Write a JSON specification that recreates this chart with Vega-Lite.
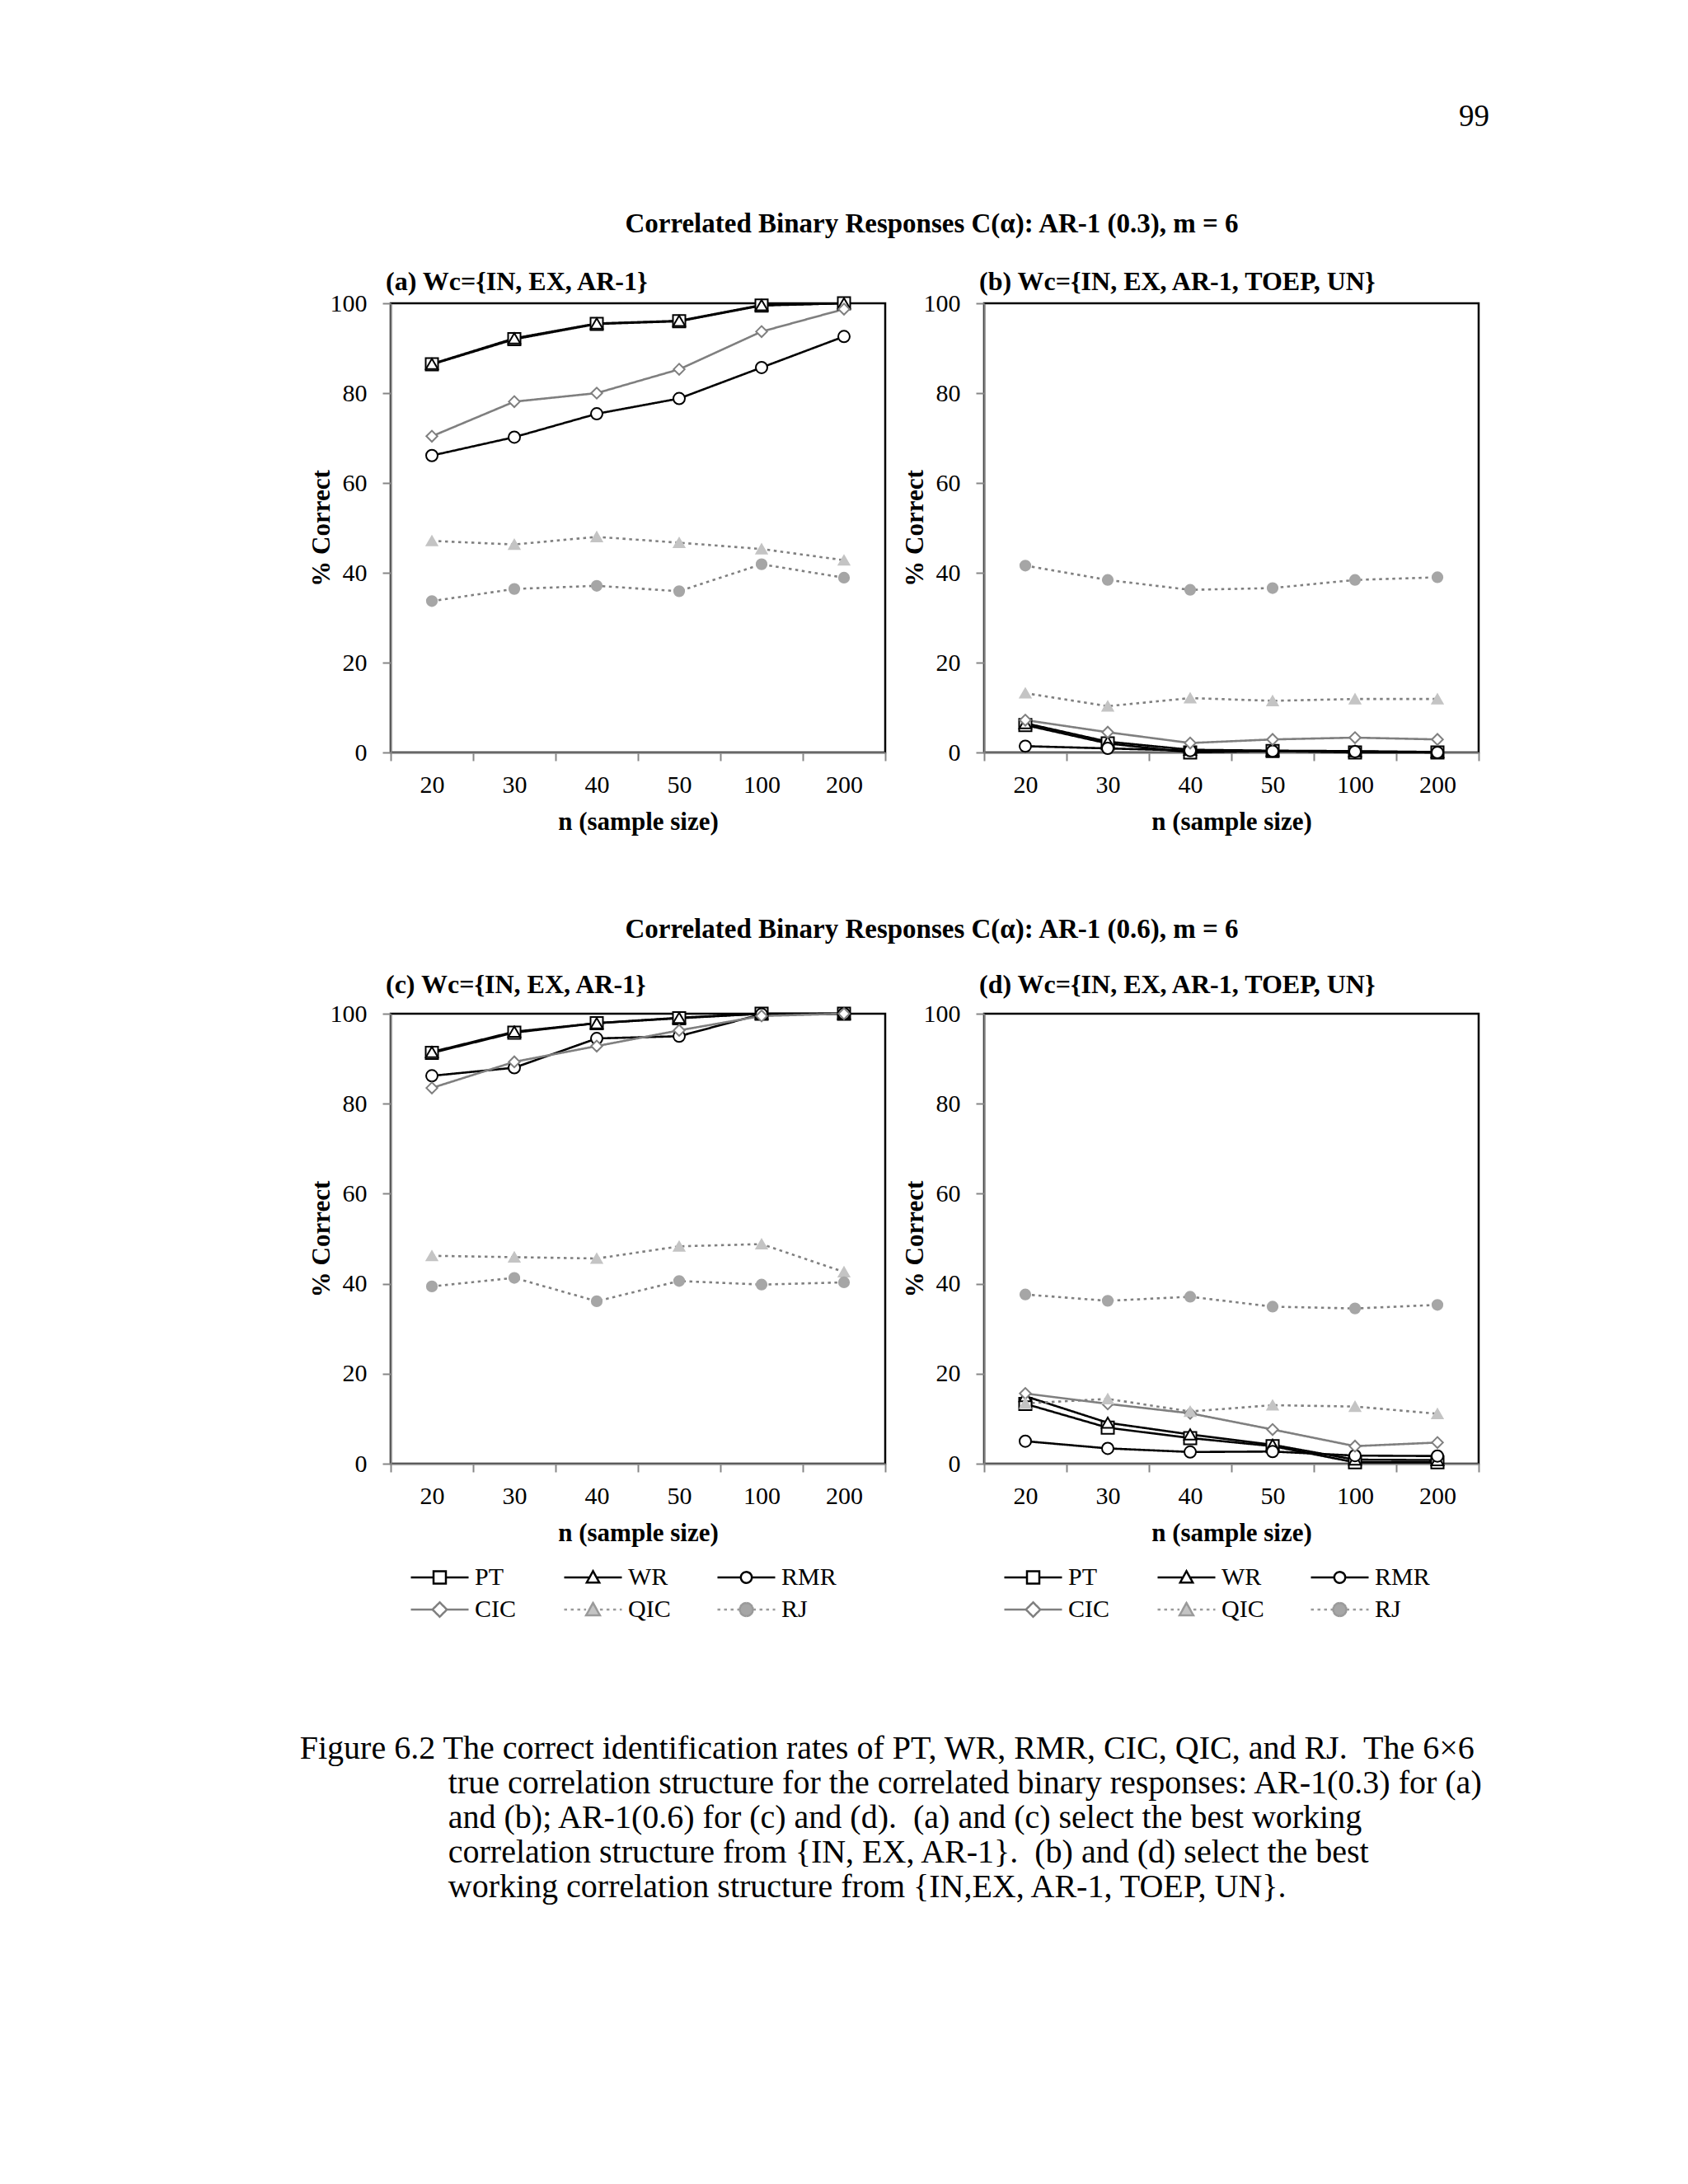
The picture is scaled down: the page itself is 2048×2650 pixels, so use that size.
{
  "$schema": "https://vega.github.io/schema/vega-lite/v6.json",
  "background": "#ffffff",
  "padding": {"left": 363, "top": 122, "right": 5, "bottom": 5},
  "title": {"text": "99", "anchor": "end", "orient": "top", "frame": "bounds", "fontSize": 37, "fontWeight": "normal", "baseline": "top", "offset": 95, "dx": 7},
  "datasets": {
    "d": [
      {"p":"a","m":"PT","n":20,"v":86.4},{"p":"a","m":"PT","n":30,"v":92.0},{"p":"a","m":"PT","n":40,"v":95.4},{"p":"a","m":"PT","n":50,"v":96.0},{"p":"a","m":"PT","n":100,"v":99.5},{"p":"a","m":"PT","n":200,"v":100},
      {"p":"a","m":"WR","n":20,"v":86.5},{"p":"a","m":"WR","n":30,"v":92.2},{"p":"a","m":"WR","n":40,"v":95.5},{"p":"a","m":"WR","n":50,"v":96.1},{"p":"a","m":"WR","n":100,"v":99.6},{"p":"a","m":"WR","n":200,"v":100},
      {"p":"a","m":"RMR","n":20,"v":66.1},{"p":"a","m":"RMR","n":30,"v":70.2},{"p":"a","m":"RMR","n":40,"v":75.4},{"p":"a","m":"RMR","n":50,"v":78.8},{"p":"a","m":"RMR","n":100,"v":85.7},{"p":"a","m":"RMR","n":200,"v":92.6},
      {"p":"a","m":"CIC","n":20,"v":70.4},{"p":"a","m":"CIC","n":30,"v":78.1},{"p":"a","m":"CIC","n":40,"v":80.0},{"p":"a","m":"CIC","n":50,"v":85.3},{"p":"a","m":"CIC","n":100,"v":93.7},{"p":"a","m":"CIC","n":200,"v":98.7},
      {"p":"a","m":"QIC","n":20,"v":47.1},{"p":"a","m":"QIC","n":30,"v":46.3},{"p":"a","m":"QIC","n":40,"v":48.0},{"p":"a","m":"QIC","n":50,"v":46.7},{"p":"a","m":"QIC","n":100,"v":45.3},{"p":"a","m":"QIC","n":200,"v":42.8},
      {"p":"a","m":"RJ","n":20,"v":33.7},{"p":"a","m":"RJ","n":30,"v":36.4},{"p":"a","m":"RJ","n":40,"v":37.1},{"p":"a","m":"RJ","n":50,"v":35.9},{"p":"a","m":"RJ","n":100,"v":41.9},{"p":"a","m":"RJ","n":200,"v":38.9},
      {"p":"b","m":"PT","n":20,"v":6.1},{"p":"b","m":"PT","n":30,"v":2.0},{"p":"b","m":"PT","n":40,"v":0.0},{"p":"b","m":"PT","n":50,"v":0.3},{"p":"b","m":"PT","n":100,"v":0.0},{"p":"b","m":"PT","n":200,"v":0.0},
      {"p":"b","m":"WR","n":20,"v":6.5},{"p":"b","m":"WR","n":30,"v":2.4},{"p":"b","m":"WR","n":40,"v":0.6},{"p":"b","m":"WR","n":50,"v":0.4},{"p":"b","m":"WR","n":100,"v":0.3},{"p":"b","m":"WR","n":200,"v":0.1},
      {"p":"b","m":"RMR","n":20,"v":1.4},{"p":"b","m":"RMR","n":30,"v":0.9},{"p":"b","m":"RMR","n":40,"v":0.4},{"p":"b","m":"RMR","n":50,"v":0.3},{"p":"b","m":"RMR","n":100,"v":0.2},{"p":"b","m":"RMR","n":200,"v":0.0},
      {"p":"b","m":"CIC","n":20,"v":7.2},{"p":"b","m":"CIC","n":30,"v":4.5},{"p":"b","m":"CIC","n":40,"v":2.1},{"p":"b","m":"CIC","n":50,"v":2.9},{"p":"b","m":"CIC","n":100,"v":3.3},{"p":"b","m":"CIC","n":200,"v":2.9},
      {"p":"b","m":"QIC","n":20,"v":13.2},{"p":"b","m":"QIC","n":30,"v":10.3},{"p":"b","m":"QIC","n":40,"v":12.1},{"p":"b","m":"QIC","n":50,"v":11.5},{"p":"b","m":"QIC","n":100,"v":11.9},{"p":"b","m":"QIC","n":200,"v":11.9},
      {"p":"b","m":"RJ","n":20,"v":41.6},{"p":"b","m":"RJ","n":30,"v":38.4},{"p":"b","m":"RJ","n":40,"v":36.2},{"p":"b","m":"RJ","n":50,"v":36.6},{"p":"b","m":"RJ","n":100,"v":38.4},{"p":"b","m":"RJ","n":200,"v":39.0},
      {"p":"c","m":"PT","n":20,"v":91.3},{"p":"c","m":"PT","n":30,"v":95.8},{"p":"c","m":"PT","n":40,"v":97.9},{"p":"c","m":"PT","n":50,"v":99.0},{"p":"c","m":"PT","n":100,"v":100},{"p":"c","m":"PT","n":200,"v":100},
      {"p":"c","m":"WR","n":20,"v":91.5},{"p":"c","m":"WR","n":30,"v":96.0},{"p":"c","m":"WR","n":40,"v":97.9},{"p":"c","m":"WR","n":50,"v":99.1},{"p":"c","m":"WR","n":100,"v":100},{"p":"c","m":"WR","n":200,"v":100},
      {"p":"c","m":"RMR","n":20,"v":86.2},{"p":"c","m":"RMR","n":30,"v":88.0},{"p":"c","m":"RMR","n":40,"v":94.5},{"p":"c","m":"RMR","n":50,"v":95.0},{"p":"c","m":"RMR","n":100,"v":99.9},{"p":"c","m":"RMR","n":200,"v":100},
      {"p":"c","m":"CIC","n":20,"v":83.5},{"p":"c","m":"CIC","n":30,"v":89.3},{"p":"c","m":"CIC","n":40,"v":92.8},{"p":"c","m":"CIC","n":50,"v":96.3},{"p":"c","m":"CIC","n":100,"v":99.5},{"p":"c","m":"CIC","n":200,"v":100},
      {"p":"c","m":"QIC","n":20,"v":46.2},{"p":"c","m":"QIC","n":30,"v":45.9},{"p":"c","m":"QIC","n":40,"v":45.6},{"p":"c","m":"QIC","n":50,"v":48.3},{"p":"c","m":"QIC","n":100,"v":48.8},{"p":"c","m":"QIC","n":200,"v":42.6},
      {"p":"c","m":"RJ","n":20,"v":39.4},{"p":"c","m":"RJ","n":30,"v":41.3},{"p":"c","m":"RJ","n":40,"v":36.1},{"p":"c","m":"RJ","n":50,"v":40.6},{"p":"c","m":"RJ","n":100,"v":39.8},{"p":"c","m":"RJ","n":200,"v":40.3},
      {"p":"d","m":"PT","n":20,"v":13.3},{"p":"d","m":"PT","n":30,"v":8.0},{"p":"d","m":"PT","n":40,"v":5.7},{"p":"d","m":"PT","n":50,"v":3.9},{"p":"d","m":"PT","n":100,"v":0.3},{"p":"d","m":"PT","n":200,"v":0.3},
      {"p":"d","m":"WR","n":20,"v":15.0},{"p":"d","m":"WR","n":30,"v":9.1},{"p":"d","m":"WR","n":40,"v":6.5},{"p":"d","m":"WR","n":50,"v":4.2},{"p":"d","m":"WR","n":100,"v":0.9},{"p":"d","m":"WR","n":200,"v":0.8},
      {"p":"d","m":"RMR","n":20,"v":5.0},{"p":"d","m":"RMR","n":30,"v":3.4},{"p":"d","m":"RMR","n":40,"v":2.6},{"p":"d","m":"RMR","n":50,"v":2.7},{"p":"d","m":"RMR","n":100,"v":1.8},{"p":"d","m":"RMR","n":200,"v":1.7},
      {"p":"d","m":"CIC","n":20,"v":15.6},{"p":"d","m":"CIC","n":30,"v":13.3},{"p":"d","m":"CIC","n":40,"v":11.2},{"p":"d","m":"CIC","n":50,"v":7.6},{"p":"d","m":"CIC","n":100,"v":3.9},{"p":"d","m":"CIC","n":200,"v":4.7},
      {"p":"d","m":"QIC","n":20,"v":13.4},{"p":"d","m":"QIC","n":30,"v":14.4},{"p":"d","m":"QIC","n":40,"v":11.6},{"p":"d","m":"QIC","n":50,"v":13.0},{"p":"d","m":"QIC","n":100,"v":12.7},{"p":"d","m":"QIC","n":200,"v":11.1},
      {"p":"d","m":"RJ","n":20,"v":37.6},{"p":"d","m":"RJ","n":30,"v":36.2},{"p":"d","m":"RJ","n":40,"v":37.1},{"p":"d","m":"RJ","n":50,"v":34.9},{"p":"d","m":"RJ","n":100,"v":34.5},{"p":"d","m":"RJ","n":200,"v":35.3}
    ]
  },
  "vconcat": [
    {
      "title": {
        "text": [
          "Figure 6.2 The correct identification rates of PT, WR, RMR, CIC, QIC, and RJ.\u00a0 The 6×6",
          "\u200b\u00a0\u00a0\u00a0\u00a0\u00a0\u00a0\u00a0\u00a0\u00a0\u00a0\u00a0\u00a0\u00a0\u00a0\u00a0\u00a0\u00a0\u00a0true correlation structure for the correlated binary responses: AR-1(0.3) for (a)",
          "\u200b\u00a0\u00a0\u00a0\u00a0\u00a0\u00a0\u00a0\u00a0\u00a0\u00a0\u00a0\u00a0\u00a0\u00a0\u00a0\u00a0\u00a0\u00a0and (b); AR-1(0.6) for (c) and (d).\u00a0 (a) and (c) select the best working",
          "\u200b\u00a0\u00a0\u00a0\u00a0\u00a0\u00a0\u00a0\u00a0\u00a0\u00a0\u00a0\u00a0\u00a0\u00a0\u00a0\u00a0\u00a0\u00a0correlation structure from {IN, EX, AR-1}.\u00a0 (b) and (d) select the best",
          "\u200b\u00a0\u00a0\u00a0\u00a0\u00a0\u00a0\u00a0\u00a0\u00a0\u00a0\u00a0\u00a0\u00a0\u00a0\u00a0\u00a0\u00a0\u00a0working correlation structure from {IN,EX, AR-1, TOEP, UN}."
        ],
        "orient": "bottom", "anchor": "start", "frame": "bounds", "fontSize": 40, "fontWeight": "normal", "lineHeight": 42, "baseline": "top", "offset": 133, "dx": -9
      },
      "spacing": 97,
      "vconcat": [
        {
          "title": {"text": "Correlated Binary Responses C(α): AR-1 (0.3), m = 6", "anchor": "middle", "frame": "bounds", "dx": 46, "baseline": "top", "offset": 36},
          "spacing": 15,
          "hconcat": [
            {
              "width": 600, "height": 545,
              "title": {"text": "(a) Wc={IN, EX, AR-1}", "anchor": "start", "frame": "group", "dx": -6, "fontSize": 32, "baseline": "top", "offset": -6},
              "data": {"name": "d"},
              "transform": [{"filter": "datum.p === 'a'"}],
              "encoding": {
                "x": {"field": "n", "type": "ordinal", "scale": {"type": "band", "paddingInner": 0, "paddingOuter": 0}, "axis": {"title": "n (sample size)", "tickBand": "extent", "labelAngle": 0}},
                "y": {"field": "v", "type": "quantitative", "scale": {"domain": [0, 100], "nice": false}, "axis": {"title": "% Correct", "values": [0, 20, 40, 60, 80, 100]}}
              },
              "layer": [
                {"mark": {"type": "line"}, "encoding": {
                  "stroke": {"field": "m", "type": "nominal", "scale": {"domain": ["PT","WR","RMR","CIC","QIC","RJ"], "range": ["#000000","#000000","#000000","#7f7f7f","#808080","#808080"]}, "legend": null},
                  "strokeDash": {"field": "m", "type": "nominal", "scale": {"domain": ["PT","WR","RMR","CIC","QIC","RJ"], "range": [[1,0],[1,0],[1,0],[1,0],[3.5,4.5],[3.5,4.5]]}, "legend": null},
                  "strokeWidth": {"field": "m", "type": "ordinal", "scale": {"domain": ["PT","WR","RMR","CIC","QIC","RJ"], "range": [2.6,2.6,2.6,2.3,3.5,3.5]}, "legend": null}
                }},
                {"mark": {"type": "point", "filled": true, "opacity": 1, "strokeWidth": 2}, "encoding": {
                  "shape": {"field": "m", "type": "nominal", "scale": {"domain": ["PT","WR","RMR","CIC","QIC","RJ"], "range": ["square","triangle-up","circle","diamond","triangle-up","circle"]}, "legend": null},
                  "fill": {"field": "m", "type": "nominal", "scale": {"domain": ["PT","WR","RMR","CIC","QIC","RJ"], "range": ["#ffffff","#ffffff","#ffffff","#ffffff","#c4c4c4","#a6a6a6"]}, "legend": null},
                  "stroke": {"field": "m", "type": "nominal", "scale": {"domain": ["PT","WR","RMR","CIC","QIC","RJ"], "range": ["#000000","#000000","#000000","#7f7f7f","#c4c4c4","#a6a6a6"]}, "legend": null},
                  "size": {"field": "m", "type": "ordinal", "scale": {"domain": ["PT","WR","RMR","CIC","QIC","RJ"], "range": [225,150,210,340,330,320]}, "legend": null}
                }}
              ],
              "resolve": {"scale": {"stroke": "independent", "strokeDash": "independent", "strokeWidth": "independent", "shape": "independent", "fill": "independent", "size": "independent"}}
            },
            {
              "width": 600, "height": 545,
              "title": {"text": "(b) Wc={IN, EX, AR-1, TOEP, UN}", "anchor": "start", "frame": "group", "dx": -6, "fontSize": 32, "baseline": "top", "offset": -6},
              "data": {"name": "d"},
              "transform": [{"filter": "datum.p === 'b'"}],
              "encoding": {
                "x": {"field": "n", "type": "ordinal", "scale": {"type": "band", "paddingInner": 0, "paddingOuter": 0}, "axis": {"title": "n (sample size)", "tickBand": "extent", "labelAngle": 0}},
                "y": {"field": "v", "type": "quantitative", "scale": {"domain": [0, 100], "nice": false}, "axis": {"title": "% Correct", "values": [0, 20, 40, 60, 80, 100]}}
              },
              "layer": [
                {"mark": {"type": "line"}, "encoding": {
                  "stroke": {"field": "m", "type": "nominal", "scale": {"domain": ["PT","WR","RMR","CIC","QIC","RJ"], "range": ["#000000","#000000","#000000","#7f7f7f","#808080","#808080"]}, "legend": null},
                  "strokeDash": {"field": "m", "type": "nominal", "scale": {"domain": ["PT","WR","RMR","CIC","QIC","RJ"], "range": [[1,0],[1,0],[1,0],[1,0],[3.5,4.5],[3.5,4.5]]}, "legend": null},
                  "strokeWidth": {"field": "m", "type": "ordinal", "scale": {"domain": ["PT","WR","RMR","CIC","QIC","RJ"], "range": [2.6,2.6,2.6,2.3,3.5,3.5]}, "legend": null}
                }},
                {"mark": {"type": "point", "filled": true, "opacity": 1, "strokeWidth": 2}, "encoding": {
                  "shape": {"field": "m", "type": "nominal", "scale": {"domain": ["PT","WR","RMR","CIC","QIC","RJ"], "range": ["square","triangle-up","circle","diamond","triangle-up","circle"]}, "legend": null},
                  "fill": {"field": "m", "type": "nominal", "scale": {"domain": ["PT","WR","RMR","CIC","QIC","RJ"], "range": ["#ffffff","#ffffff","#ffffff","#ffffff","#c4c4c4","#a6a6a6"]}, "legend": null},
                  "stroke": {"field": "m", "type": "nominal", "scale": {"domain": ["PT","WR","RMR","CIC","QIC","RJ"], "range": ["#000000","#000000","#000000","#7f7f7f","#c4c4c4","#a6a6a6"]}, "legend": null},
                  "size": {"field": "m", "type": "ordinal", "scale": {"domain": ["PT","WR","RMR","CIC","QIC","RJ"], "range": [225,150,210,340,330,320]}, "legend": null}
                }}
              ],
              "resolve": {"scale": {"stroke": "independent", "strokeDash": "independent", "strokeWidth": "independent", "shape": "independent", "fill": "independent", "size": "independent"}}
            }
          ]
        },
        {
          "title": {"text": "Correlated Binary Responses C(α): AR-1 (0.6), m = 6", "anchor": "middle", "frame": "bounds", "dx": 46, "baseline": "top", "offset": 33},
          "spacing": 15,
          "hconcat": [
            {
              "width": 600, "height": 546,
              "title": {"text": "(c) Wc={IN, EX, AR-1}", "anchor": "start", "frame": "group", "dx": -6, "fontSize": 32, "baseline": "top", "offset": 3},
              "data": {"name": "d"},
              "transform": [{"filter": "datum.p === 'c'"}],
              "encoding": {
                "x": {"field": "n", "type": "ordinal", "scale": {"type": "band", "paddingInner": 0, "paddingOuter": 0}, "axis": {"title": "n (sample size)", "tickBand": "extent", "labelAngle": 0}},
                "y": {"field": "v", "type": "quantitative", "scale": {"domain": [0, 100], "nice": false}, "axis": {"title": "% Correct", "values": [0, 20, 40, 60, 80, 100]}}
              },
              "layer": [
                {"mark": {"type": "line"}, "encoding": {
                  "stroke": {"field": "m", "type": "nominal", "scale": {"domain": ["PT","WR","RMR","CIC","QIC","RJ"], "range": ["#000000","#000000","#000000","#7f7f7f","#808080","#808080"]}, "legend": null},
                  "strokeDash": {"field": "m", "type": "nominal", "scale": {"domain": ["PT","WR","RMR","CIC","QIC","RJ"], "range": [[1,0],[1,0],[1,0],[1,0],[3.5,4.5],[3.5,4.5]]}, "legend": null},
                  "strokeWidth": {"field": "m", "type": "ordinal", "scale": {"domain": ["PT","WR","RMR","CIC","QIC","RJ"], "range": [2.6,2.6,2.6,2.3,3.5,3.5]}, "legend": null}
                }},
                {"mark": {"type": "point", "filled": true, "opacity": 1, "strokeWidth": 2}, "encoding": {
                  "shape": {"field": "m", "type": "nominal", "scale": {"domain": ["PT","WR","RMR","CIC","QIC","RJ"], "range": ["square","triangle-up","circle","diamond","triangle-up","circle"]}, "legend": null},
                  "fill": {"field": "m", "type": "nominal", "scale": {"domain": ["PT","WR","RMR","CIC","QIC","RJ"], "range": ["#ffffff","#ffffff","#ffffff","#ffffff","#c4c4c4","#a6a6a6"]}, "legend": null},
                  "stroke": {"field": "m", "type": "nominal", "scale": {"domain": ["PT","WR","RMR","CIC","QIC","RJ"], "range": ["#000000","#000000","#000000","#7f7f7f","#c4c4c4","#a6a6a6"]}, "legend": null},
                  "size": {"field": "m", "type": "ordinal", "scale": {"domain": ["PT","WR","RMR","CIC","QIC","RJ"], "range": [225,150,210,340,330,320]}, "legend": null}
                }},
                {"mark": {"type": "point", "filled": true, "opacity": 0}, "encoding": {
                  "shape": {"field": "m", "type": "nominal", "scale": {"domain": ["PT","WR","RMR","CIC","QIC","RJ"], "range": [
                    "M-1,0H-0.214M0.214,0H1M-0.214,-0.214H0.214V0.214H-0.214Z",
                    "M-1,0H-0.14M0.14,0H1M0,-0.22L0.22,0.18H-0.22Z",
                    "M-1,0H-0.19M0.19,0H1M-0.19,0A0.19,0.19,0,1,0,0.19,0A0.19,0.19,0,1,0,-0.19,0Z",
                    "M-1,0H-0.25M0.25,0H1M0,-0.25L0.25,0L0,0.25L-0.25,0Z",
                    "M-1,0H-0.24M0.24,0H1M0,-0.23L0.24,0.2H-0.24ZM0,-0.23L0.04,-0.1583M0.04,-0.1583L0.08,-0.0867M0.08,-0.0867L0.12,-0.015M0.12,-0.015L0.16,0.0567M0.16,0.0567L0.2,0.1283M0.2,0.1283L0.24,0.2M0.24,0.2L0.16,0.2M0.16,0.2L0.08,0.2M0.08,0.2L0,0.2M0,0.2L-0.08,0.2M-0.08,0.2L-0.16,0.2M-0.16,0.2L-0.24,0.2M-0.24,0.2L-0.2,0.1283M-0.2,0.1283L-0.16,0.0567M-0.16,0.0567L-0.12,-0.015M-0.12,-0.015L-0.08,-0.0867M-0.08,-0.0867L-0.04,-0.1583M-0.04,-0.1583L0,-0.23",
                    "M-1,0H-0.23M0.23,0H1M0.23,0L0.2125,0.088L0.1626,0.1626L0.088,0.2125L0,0.23L-0.088,0.2125L-0.1626,0.1626L-0.2125,0.088L-0.23,0L-0.2125,-0.088L-0.1626,-0.1626L-0.088,-0.2125L0,-0.23L0.088,-0.2125L0.1626,-0.1626L0.2125,-0.088ZM0.23,0L0.2125,0.088M0.2125,0.088L0.1626,0.1626M0.1626,0.1626L0.088,0.2125M0.088,0.2125L0,0.23M0,0.23L-0.088,0.2125M-0.088,0.2125L-0.1626,0.1626M-0.1626,0.1626L-0.2125,0.088M-0.2125,0.088L-0.23,0M-0.23,0L-0.2125,-0.088M-0.2125,-0.088L-0.1626,-0.1626M-0.1626,-0.1626L-0.088,-0.2125M-0.088,-0.2125L0,-0.23M0,-0.23L0.088,-0.2125M0.088,-0.2125L0.1626,-0.1626M0.1626,-0.1626L0.2125,-0.088M0.2125,-0.088L0.23,0"
                  ]}, "legend": {"title": null, "orient": "none", "direction": "horizontal", "legendX": 23, "legendY": 669, "columns": 3, "symbolSize": 4900, "clipHeight": 30, "symbolStrokeWidth": 2.5, "labelFontSize": 30, "labelColor": "#000000", "labelOffset": 6, "columnPadding": 40, "rowPadding": 9, "gridAlign": "all", "padding": 0, "symbolOpacity": 1, "labelLimit": 0}},
                  "fill": {"field": "m", "type": "nominal", "scale": {"domain": ["PT","WR","RMR","CIC","QIC","RJ"], "range": ["#ffffff","#ffffff","#ffffff","#ffffff","#c4c4c4","#a6a6a6"]}, "legend": {"title": null, "orient": "none", "direction": "horizontal", "legendX": 23, "legendY": 669, "columns": 3, "symbolSize": 4900, "clipHeight": 30, "symbolStrokeWidth": 2.5, "labelFontSize": 30, "labelColor": "#000000", "labelOffset": 6, "columnPadding": 40, "rowPadding": 9, "gridAlign": "all", "padding": 0, "symbolOpacity": 1, "labelLimit": 0}},
                  "stroke": {"field": "m", "type": "nominal", "scale": {"domain": ["PT","WR","RMR","CIC","QIC","RJ"], "range": ["#000000","#000000","#000000","#7f7f7f","#9a9a9a","#9a9a9a"]}, "legend": {"title": null, "orient": "none", "direction": "horizontal", "legendX": 23, "legendY": 669, "columns": 3, "symbolSize": 4900, "clipHeight": 30, "symbolStrokeWidth": 2.5, "labelFontSize": 30, "labelColor": "#000000", "labelOffset": 6, "columnPadding": 40, "rowPadding": 9, "gridAlign": "all", "padding": 0, "symbolOpacity": 1, "labelLimit": 0}},
                  "strokeDash": {"field": "m", "type": "nominal", "scale": {"domain": ["PT","WR","RMR","CIC","QIC","RJ"], "range": [[1,0],[1,0],[1,0],[1,0],[3.5,4.5],[3.5,4.5]]}, "legend": {"title": null, "orient": "none", "direction": "horizontal", "legendX": 23, "legendY": 669, "columns": 3, "symbolSize": 4900, "clipHeight": 30, "symbolStrokeWidth": 2.5, "labelFontSize": 30, "labelColor": "#000000", "labelOffset": 6, "columnPadding": 40, "rowPadding": 9, "gridAlign": "all", "padding": 0, "symbolOpacity": 1, "labelLimit": 0}}
                }}
              ],
              "resolve": {"scale": {"stroke": "independent", "strokeDash": "independent", "strokeWidth": "independent", "shape": "independent", "fill": "independent", "size": "independent"}}
            },
            {
              "width": 600, "height": 546,
              "title": {"text": "(d) Wc={IN, EX, AR-1, TOEP, UN}", "anchor": "start", "frame": "group", "dx": -6, "fontSize": 32, "baseline": "top", "offset": 3},
              "data": {"name": "d"},
              "transform": [{"filter": "datum.p === 'd'"}],
              "encoding": {
                "x": {"field": "n", "type": "ordinal", "scale": {"type": "band", "paddingInner": 0, "paddingOuter": 0}, "axis": {"title": "n (sample size)", "tickBand": "extent", "labelAngle": 0}},
                "y": {"field": "v", "type": "quantitative", "scale": {"domain": [0, 100], "nice": false}, "axis": {"title": "% Correct", "values": [0, 20, 40, 60, 80, 100]}}
              },
              "layer": [
                {"mark": {"type": "line"}, "encoding": {
                  "stroke": {"field": "m", "type": "nominal", "scale": {"domain": ["PT","WR","RMR","CIC","QIC","RJ"], "range": ["#000000","#000000","#000000","#7f7f7f","#808080","#808080"]}, "legend": null},
                  "strokeDash": {"field": "m", "type": "nominal", "scale": {"domain": ["PT","WR","RMR","CIC","QIC","RJ"], "range": [[1,0],[1,0],[1,0],[1,0],[3.5,4.5],[3.5,4.5]]}, "legend": null},
                  "strokeWidth": {"field": "m", "type": "ordinal", "scale": {"domain": ["PT","WR","RMR","CIC","QIC","RJ"], "range": [2.6,2.6,2.6,2.3,3.5,3.5]}, "legend": null}
                }},
                {"mark": {"type": "point", "filled": true, "opacity": 1, "strokeWidth": 2}, "encoding": {
                  "shape": {"field": "m", "type": "nominal", "scale": {"domain": ["PT","WR","RMR","CIC","QIC","RJ"], "range": ["square","triangle-up","circle","diamond","triangle-up","circle"]}, "legend": null},
                  "fill": {"field": "m", "type": "nominal", "scale": {"domain": ["PT","WR","RMR","CIC","QIC","RJ"], "range": ["#ffffff","#ffffff","#ffffff","#ffffff","#c4c4c4","#a6a6a6"]}, "legend": null},
                  "stroke": {"field": "m", "type": "nominal", "scale": {"domain": ["PT","WR","RMR","CIC","QIC","RJ"], "range": ["#000000","#000000","#000000","#7f7f7f","#c4c4c4","#a6a6a6"]}, "legend": null},
                  "size": {"field": "m", "type": "ordinal", "scale": {"domain": ["PT","WR","RMR","CIC","QIC","RJ"], "range": [225,150,210,340,330,320]}, "legend": null}
                }},
                {"mark": {"type": "point", "filled": true, "opacity": 0}, "encoding": {
                  "shape": {"field": "m", "type": "nominal", "scale": {"domain": ["PT","WR","RMR","CIC","QIC","RJ"], "range": [
                    "M-1,0H-0.214M0.214,0H1M-0.214,-0.214H0.214V0.214H-0.214Z",
                    "M-1,0H-0.14M0.14,0H1M0,-0.22L0.22,0.18H-0.22Z",
                    "M-1,0H-0.19M0.19,0H1M-0.19,0A0.19,0.19,0,1,0,0.19,0A0.19,0.19,0,1,0,-0.19,0Z",
                    "M-1,0H-0.25M0.25,0H1M0,-0.25L0.25,0L0,0.25L-0.25,0Z",
                    "M-1,0H-0.24M0.24,0H1M0,-0.23L0.24,0.2H-0.24ZM0,-0.23L0.04,-0.1583M0.04,-0.1583L0.08,-0.0867M0.08,-0.0867L0.12,-0.015M0.12,-0.015L0.16,0.0567M0.16,0.0567L0.2,0.1283M0.2,0.1283L0.24,0.2M0.24,0.2L0.16,0.2M0.16,0.2L0.08,0.2M0.08,0.2L0,0.2M0,0.2L-0.08,0.2M-0.08,0.2L-0.16,0.2M-0.16,0.2L-0.24,0.2M-0.24,0.2L-0.2,0.1283M-0.2,0.1283L-0.16,0.0567M-0.16,0.0567L-0.12,-0.015M-0.12,-0.015L-0.08,-0.0867M-0.08,-0.0867L-0.04,-0.1583M-0.04,-0.1583L0,-0.23",
                    "M-1,0H-0.23M0.23,0H1M0.23,0L0.2125,0.088L0.1626,0.1626L0.088,0.2125L0,0.23L-0.088,0.2125L-0.1626,0.1626L-0.2125,0.088L-0.23,0L-0.2125,-0.088L-0.1626,-0.1626L-0.088,-0.2125L0,-0.23L0.088,-0.2125L0.1626,-0.1626L0.2125,-0.088ZM0.23,0L0.2125,0.088M0.2125,0.088L0.1626,0.1626M0.1626,0.1626L0.088,0.2125M0.088,0.2125L0,0.23M0,0.23L-0.088,0.2125M-0.088,0.2125L-0.1626,0.1626M-0.1626,0.1626L-0.2125,0.088M-0.2125,0.088L-0.23,0M-0.23,0L-0.2125,-0.088M-0.2125,-0.088L-0.1626,-0.1626M-0.1626,-0.1626L-0.088,-0.2125M-0.088,-0.2125L0,-0.23M0,-0.23L0.088,-0.2125M0.088,-0.2125L0.1626,-0.1626M0.1626,-0.1626L0.2125,-0.088M0.2125,-0.088L0.23,0"
                  ]}, "legend": {"title": null, "orient": "none", "direction": "horizontal", "legendX": 23, "legendY": 669, "columns": 3, "symbolSize": 4900, "clipHeight": 30, "symbolStrokeWidth": 2.5, "labelFontSize": 30, "labelColor": "#000000", "labelOffset": 6, "columnPadding": 40, "rowPadding": 9, "gridAlign": "all", "padding": 0, "symbolOpacity": 1, "labelLimit": 0}},
                  "fill": {"field": "m", "type": "nominal", "scale": {"domain": ["PT","WR","RMR","CIC","QIC","RJ"], "range": ["#ffffff","#ffffff","#ffffff","#ffffff","#c4c4c4","#a6a6a6"]}, "legend": {"title": null, "orient": "none", "direction": "horizontal", "legendX": 23, "legendY": 669, "columns": 3, "symbolSize": 4900, "clipHeight": 30, "symbolStrokeWidth": 2.5, "labelFontSize": 30, "labelColor": "#000000", "labelOffset": 6, "columnPadding": 40, "rowPadding": 9, "gridAlign": "all", "padding": 0, "symbolOpacity": 1, "labelLimit": 0}},
                  "stroke": {"field": "m", "type": "nominal", "scale": {"domain": ["PT","WR","RMR","CIC","QIC","RJ"], "range": ["#000000","#000000","#000000","#7f7f7f","#9a9a9a","#9a9a9a"]}, "legend": {"title": null, "orient": "none", "direction": "horizontal", "legendX": 23, "legendY": 669, "columns": 3, "symbolSize": 4900, "clipHeight": 30, "symbolStrokeWidth": 2.5, "labelFontSize": 30, "labelColor": "#000000", "labelOffset": 6, "columnPadding": 40, "rowPadding": 9, "gridAlign": "all", "padding": 0, "symbolOpacity": 1, "labelLimit": 0}},
                  "strokeDash": {"field": "m", "type": "nominal", "scale": {"domain": ["PT","WR","RMR","CIC","QIC","RJ"], "range": [[1,0],[1,0],[1,0],[1,0],[3.5,4.5],[3.5,4.5]]}, "legend": {"title": null, "orient": "none", "direction": "horizontal", "legendX": 23, "legendY": 669, "columns": 3, "symbolSize": 4900, "clipHeight": 30, "symbolStrokeWidth": 2.5, "labelFontSize": 30, "labelColor": "#000000", "labelOffset": 6, "columnPadding": 40, "rowPadding": 9, "gridAlign": "all", "padding": 0, "symbolOpacity": 1, "labelLimit": 0}}
                }}
              ],
              "resolve": {"scale": {"stroke": "independent", "strokeDash": "independent", "strokeWidth": "independent", "shape": "independent", "fill": "independent", "size": "independent"}}
            }
          ]
        }
      ]
    }
  ],
  "config": {
    "font": "Liberation Serif",
    "view": {"stroke": "#000000", "strokeWidth": 2.5},
    "title": {"font": "Liberation Serif", "fontSize": 33, "fontWeight": "bold", "color": "#000000"},
    "axis": {"domainColor": "#868686", "domainWidth": 2, "tickColor": "#868686", "tickWidth": 2, "tickSize": 10, "labelFont": "Liberation Serif", "labelFontSize": 30, "labelColor": "#000000", "titleFont": "Liberation Serif", "titleFontSize": 31, "titleFontWeight": "bold", "titleColor": "#000000", "grid": false},
    "axisX": {"labelPadding": 14, "titlePadding": 15},
    "axisY": {"labelPadding": 19, "titlePadding": -6},
    "legend": {"labelFont": "Liberation Serif"}
  }
}
